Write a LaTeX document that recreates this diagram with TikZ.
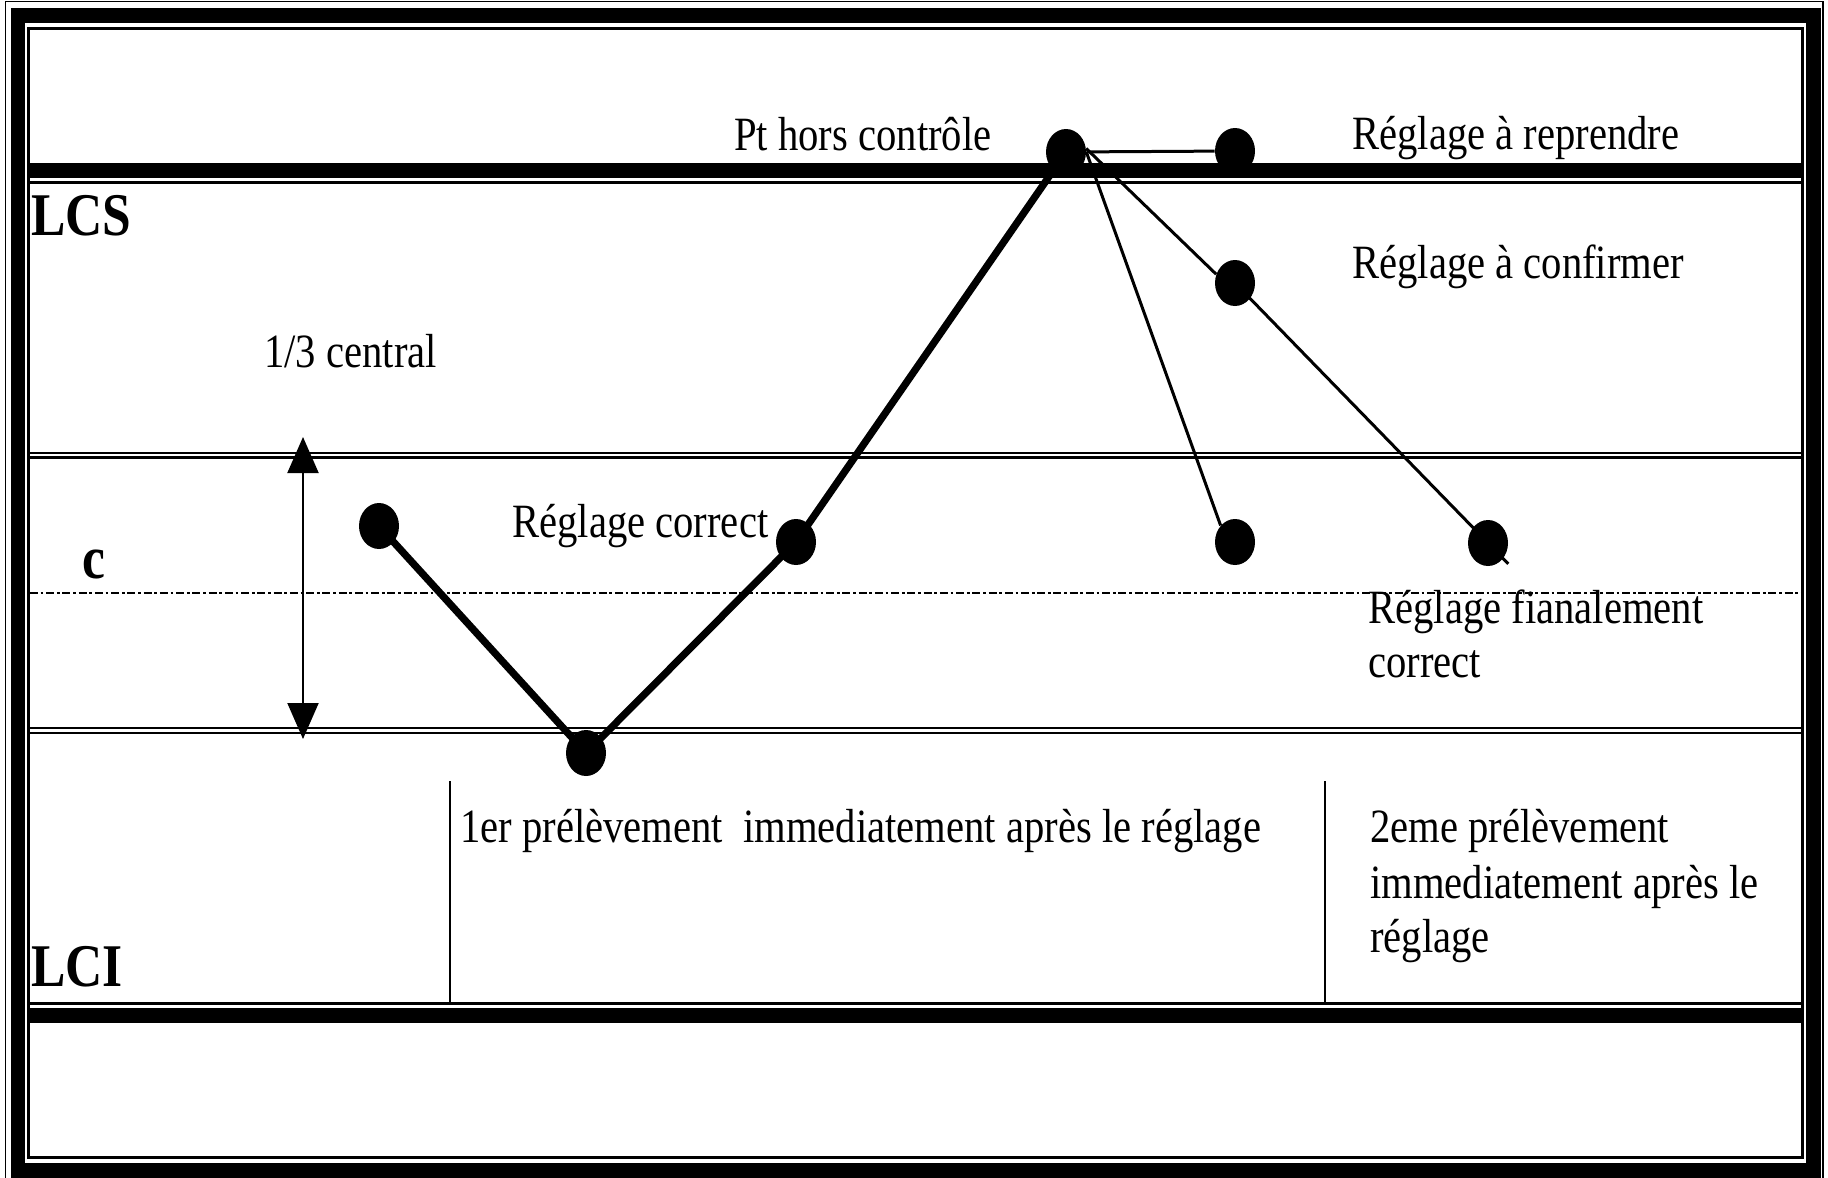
\documentclass[tikz,border=0pt]{standalone}
\usepackage{fontspec}
\setmainfont{Liberation Serif}[FakeStretch=0.85]
\usetikzlibrary{arrows.meta,shapes.geometric,calc}

\begin{document}
\begin{tikzpicture}[x=0.02cm,y=-0.02cm,
  dot/.style={ellipse,fill=black,inner sep=0pt,minimum width=0.8cm,minimum height=0.92cm},
  lbl/.style={anchor=base west,inner sep=0pt,font=\fontsize{27.2}{31}\selectfont},
  blbl/.style={anchor=base west,inner sep=0pt,font=\fontsize{34.5}{38}\selectfont\bfseries},
  band/.style={line width=0.3cm},
  thinrule/.style={line width=0.06cm},
  rule/.style={line width=0.052cm},
  thickpath/.style={line width=0.145cm},
  thinpath/.style={line width=0.06cm},
  midline/.style={line width=0.05cm,dash pattern=on 0.16cm off 0.055cm on 0.055cm off 0.055cm},
]
\useasboundingbox (0,0) rectangle (1828,1177);
\fill[white] (0,0) rectangle (1828,1177);

% page frame
\draw[line width=0.025cm] (5.5,1180) -- (5.5,1.5) -- (1823,1.5) -- (1823,1180);
\draw[line width=0.3cm] (18,15) rectangle (1813,1170);
\draw[line width=0.06cm] (28.5,28) rectangle (1802.5,1157.5);

% upper control limit
\draw[band] (30,170) -- (1801,170);
\draw[thinrule] (30,182.5) -- (1801,182.5);
% central third
\draw[rule] (30,453) -- (1801,453);
\draw[rule] (30,457.5) -- (1801,457.5);
\draw[rule] (30,728) -- (1801,728);
\draw[rule] (30,733) -- (1801,733);
% centre line
\draw[midline] (30,593) -- (1801,593);
% lower control limit
\draw[thinrule] (30,1003.5) -- (1801,1003.5);
\draw[band] (30,1015.5) -- (1801,1015.5);

% sample separators
\draw[line width=0.04cm] (450,781) -- (450,1002);
\draw[line width=0.04cm] (1325,781) -- (1325,1002);

% width of the central third
\coordinate (a1) at (303,437);
\coordinate (a2) at (303,739);
\draw[line width=0.04cm,{Triangle[width=0.62cm,length=0.72cm]}-{Triangle[width=0.62cm,length=0.72cm]}] (a1) -- (a2);

% labels
\node[blbl] (lcs) at (31,235) {LCS};
\node[blbl] (lci) at (31,986) {LCI};
\node[blbl] (cc) at (82,578) {c};
\node[lbl] (tiers) at (264,367) {1/3 central};
\node[lbl] (hors) at (734,150) {Pt hors contrôle};
\node[lbl] (repr) at (1352,149) {Réglage à reprendre};
\node[lbl] (conf) at (1352,278) {Réglage à confirmer};
\node[lbl] (corr) at (512,537) {Réglage correct};
\node[lbl] (fin1) at (1368,623) {Réglage fianalement};
\node[lbl] (fin2) at (1368,677) {correct};
\node[lbl] (prem) at (460,842) {1er prélèvement~ immediatement après le réglage};
\node[lbl] (sec1) at (1370,842) {2eme prélèvement};
\node[lbl] (sec2) at (1370,898) {immediatement après le};
\node[lbl] (sec3) at (1370,952) {réglage};

% measurement points
\node[dot] (D1) at (379,526) {};
\node[dot] (D2) at (586,753) {};
\node[dot] (D3) at (796,542) {};
\node[dot] (D4) at (1066,152) {};
\node[dot] (D5) at (1235,151) {};
\node[dot] (D6) at (1235,283) {};
\node[dot] (D7) at (1235,542) {};
\node[dot] (D8) at (1488,543) {};
\coordinate (D8tail) at ($(D6)!1.08!(D8)$);

% adjustment path
\draw[thickpath] (D1.center) -- (D2.center) -- (D3.center) -- (D4.center);
\draw[thinpath] (D4) -- (D5);
\draw[thinpath] (D4.10) -- (D6.155);
\draw[thinpath] (D4.east) -- (D7.north west);
\draw[thinpath] (D6.center) -- (D8tail);
\end{tikzpicture}
\end{document}
